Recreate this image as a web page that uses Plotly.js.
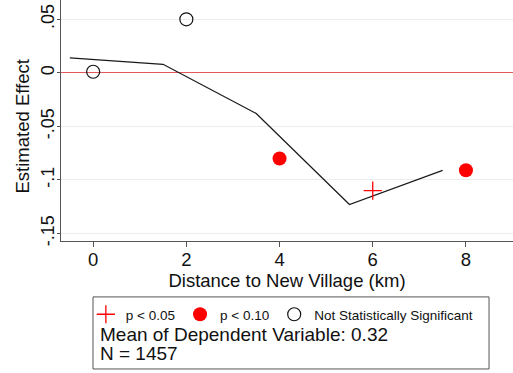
<!DOCTYPE html>
<html><head><meta charset="utf-8">
<script src="https://cdn.plot.ly/plotly-3.0.1.min.js"></script>
<style>html,body{margin:0;padding:0;background:#fff}#c{width:513px;height:373px}</style>
</head><body><div id="c"></div>
<script>
// Fitted line
const lineX = [-0.5, 1.5, 3.5, 5.5, 7.5];
const lineY = [0.014, 0.008, -0.038, -0.123, -0.091];
// Point estimates by significance
const sig05X = [6];
const sig05Y = [-0.110];
const sig10X = [4, 8];
const sig10Y = [-0.080, -0.091];
const nsX = [0, 2];
const nsY = [0.001, 0.050];
const xTicks = [0, 2, 4, 6, 8];
const yTicks = [-0.15, -0.1, -0.05, 0, 0.05];
const yTickText = ['-.15', '-.1', '-.05', '0', '.05'];
const xTitle = 'Distance to New Village (km)';
const yTitle = 'Estimated Effect';
const noteLines = ['Mean of Dependent Variable: 0.32', 'N = 1457'];

const FONT = 'Liberation Sans, Arial, Helvetica, sans-serif';

const traces = [
  {x: lineX, y: lineY, mode: 'lines', line: {color: '#1a1a1a', width: 1.3}, showlegend: false, hoverinfo: 'skip'},
  {x: sig05X, y: sig05Y, mode: 'markers', name: 'p < 0.05',
   marker: {symbol: 'cross-thin', size: 13, color: 'red', line: {color: 'red', width: 1.3}}},
  {x: sig10X, y: sig10Y, mode: 'markers', name: 'p < 0.10',
   marker: {symbol: 'circle', size: 14, color: 'red'}},
  {x: nsX, y: nsY, mode: 'markers', name: 'Not Statistically Significant',
   marker: {symbol: 'circle-open', size: 13, color: '#111', line: {color: '#111', width: 1.2}}}
];

const layout = {
  width: 513, height: 373,
  margin: {l: 61, r: 0, t: 0, b: 132},
  paper_bgcolor: '#fff', plot_bgcolor: '#fff',
  font: {family: FONT, color: '#111'},
  xaxis: {
    range: [-0.69, 9.01], tickvals: xTicks, ticktext: xTicks.map(String),
    showgrid: false, zeroline: false, showline: true, linecolor: '#555', linewidth: 1,
    ticks: 'outside', ticklen: 5, tickcolor: '#555', ticklabelstandoff: -3,
    tickfont: {size: 18.5, family: FONT},
    title: {text: xTitle, font: {size: 18.5, family: FONT}, standoff: 0}
  },
  yaxis: {
    range: [-0.157, 0.068], tickvals: yTicks, ticktext: yTickText, tickangle: -90,
    showgrid: true, gridcolor: '#e8eeee', gridwidth: 1,
    zeroline: true, zerolinecolor: '#e05a5a', zerolinewidth: 1,
    showline: true, linecolor: '#555', linewidth: 1,
    ticks: 'outside', ticklen: 3, tickcolor: '#555', ticklabelstandoff: -4,
    tickfont: {size: 18, family: FONT}
  },
  showlegend: true,
  legend: {
    orientation: 'h', x: 0.055, xanchor: 'left', y: -0.2405, yanchor: 'top',
    font: {size: 13.5, family: FONT}, bgcolor: 'rgba(0,0,0,0)', borderwidth: 0,
    itemwidth: 30
  },
  shapes: [
    {type: 'rect', xref: 'paper', yref: 'paper', x0: 0.0708, x1: 0.947, y0: -0.531, y1: -0.232,
     line: {color: '#555', width: 1}, fillcolor: 'rgba(0,0,0,0)'}
  ],
  annotations: [
    {xref: 'paper', yref: 'paper', x: -0.0847, y: 0.474, xanchor: 'center', yanchor: 'middle',
     textangle: -90, text: yTitle, showarrow: false, font: {size: 18.5, family: FONT, color: '#111'}},
    {xref: 'paper', yref: 'paper', x: 0.082, y: -0.388, xanchor: 'left', yanchor: 'middle',
     text: noteLines[0], showarrow: false, font: {size: 19, family: FONT, color: '#111'}},
    {xref: 'paper', yref: 'paper', x: 0.082, y: -0.467, xanchor: 'left', yanchor: 'middle',
     text: noteLines[1], showarrow: false, font: {size: 19, family: FONT, color: '#111'}}
  ]
};

Plotly.newPlot('c', traces, layout, {displayModeBar: false, staticPlot: true});
</script></body></html>
